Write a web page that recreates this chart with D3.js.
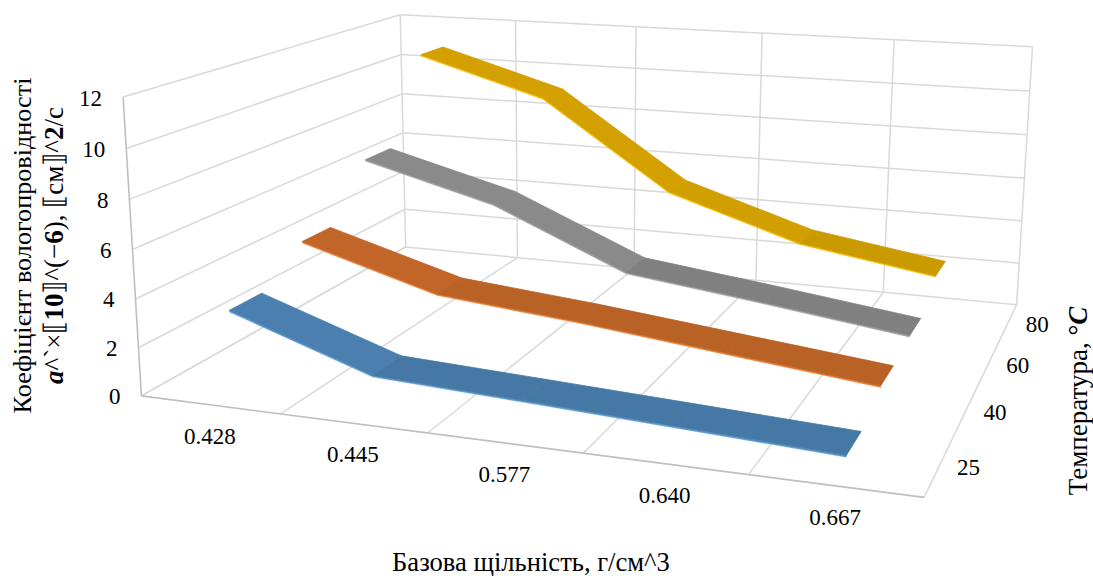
<!DOCTYPE html>
<html><head><meta charset="utf-8">
<script src="https://cdn.jsdelivr.net/npm/d3@7"></script>
<style>
html,body{margin:0;padding:0;background:#fff}
svg{display:block}
text{font-family:"Liberation Serif","Times New Roman",serif;fill:#000}
</style></head><body>
<svg id="c" width="1093" height="576"></svg>
<script>
const densities=["0.428","0.445","0.577","0.640","0.667"];
const temps=["25","40","60","80"];
const yTicks=[0,2,4,6,8,10,12];
const s25=[3.35,1.35,1.07,0.78,0.48];
const s40=[4.65,2.95,2.4,1.75,1.1];
const s60=[6.95,5.4,2.85,2.1,1.3];
const s80=[10.8,9.1,5.1,3.2,2.25];
const seriesValues=[s25,s40,s60,s80];
const edgeColors=["#5b9bd5","#ed7d31","#a5a5a5","#ffc000"];
const faceColors=[
 ["#4a7fb0","#4678a5","#4678a5","#4678a5"],
 ["#c26529","#b86226","#b86226","#b86226"],
 ["#8a8a8a","#8a8a8a","#808080","#808080"],
 ["#d3a000","#d3a000","#d1a000","#c99b00"]];

// Calibration of the 3D box: unit-cube corner -> picture position.
const calib=[
 [0,0,0,141.7,395.7],[1,0,0,924.3,497.3],[1,0,1,1016.7,305],[0,0,1,405.3,247],
 [0,1,0,122.7,97.3],[0,1,1,400.7,14.7],[1,1,1,1032.3,46.7]];
function solve(A,b){const n=b.length,M=A.map((r,i)=>[...r,b[i]]);
 for(let i=0;i<n;i++){let p=i;for(let k=i+1;k<n;k++)if(Math.abs(M[k][i])>Math.abs(M[p][i]))p=k;[M[i],M[p]]=[M[p],M[i]];
  for(let k=i+1;k<n;k++){const f=M[k][i]/M[i][i];for(let j=i;j<=n;j++)M[k][j]-=f*M[i][j];}}
 const x=Array(n).fill(0);for(let i=n-1;i>=0;i--){let s=M[i][n];for(let j=i+1;j<n;j++)s-=M[i][j]*x[j];x[i]=s/M[i][i];}return x;}
const rows=[],rhs=[];
calib.forEach(([X,Y,Z,u,v])=>{
 rows.push([X,Y,Z,1,0,0,0,0,-u*X,-u*Y,-u*Z]);rhs.push(u);
 rows.push([0,0,0,0,X,Y,Z,1,-v*X,-v*Y,-v*Z]);rhs.push(v);});
const ATA=d3.range(11).map(i=>d3.range(11).map(j=>d3.sum(rows,r=>r[i]*r[j])));
const ATb=d3.range(11).map(i=>d3.sum(rows,(r,k)=>r[i]*rhs[k]));
const h=solve(ATA,ATb);
function proj(X,Y,Z){const w=h[8]*X+h[9]*Y+h[10]*Z+1;
 return [(h[0]*X+h[1]*Y+h[2]*Z+h[3])/w,(h[4]*X+h[5]*Y+h[6]*Z+h[7])/w];}

const x=d3.scaleBand().domain(densities).range([0,1]);
const z=d3.scaleBand().domain(temps).range([0,1]);
const y=d3.scaleLinear().domain([0,12]).range([0,1]);
const xc=d=>x(d)+x.bandwidth()/2, zc=d=>z(d)+z.bandwidth()/2;
const ribbon=0.105, thick=0.07;

const svg=d3.select("#c");
const line=d3.line();
const seg=(g,a,b,col,w)=>g.append("path").attr("d",line([proj(...a),proj(...b)])).attr("stroke",col).attr("stroke-width",w).attr("fill","none");
const grid=svg.append("g");
const G="#d9d9d9",A="#bfbfbf";
yTicks.forEach(v=>{
 seg(grid,[0,y(v),0],[0,y(v),1],G,1.5);
 seg(grid,[0,y(v),1],[1,y(v),1],G,1.5);
});
d3.range(6).map(i=>i/5).forEach(t=>{
 seg(grid,[t,0,1],[t,1,1],G,1.5);
 seg(grid,[t,0,0],[t,0,1],G,1.5);
});
seg(grid,[0,0,0],[0,1,0],A,1.6);
seg(grid,[0,0,0],[1,0,0],A,1.6);

// series, back to front
d3.range(temps.length).reverse().forEach(s=>{
 const g=svg.append("g");
 const vals=seriesValues[s], zm=zc(temps[s]), z0=zm-ribbon/2, z1=zm+ribbon/2;
 const pts=densities.map((d,i)=>[xc(d),y(vals[i])]);
 d3.pairs(pts).forEach(([a,b])=>{
  const front=[[a[0],a[1],z0],[b[0],b[1],z0],[b[0],b[1]-y(thick)+y(0),z0],[a[0],a[1]-y(thick)+y(0),z0]].map(p=>proj(...p));
  g.append("path").attr("d",line(front)+"Z").attr("fill",edgeColors[s]).attr("stroke",edgeColors[s]).attr("stroke-width",.3);
 });
 d3.pairs(pts).forEach(([a,b],i)=>{
  const top=[[a[0],a[1],z0],[b[0],b[1],z0],[b[0],b[1],z1],[a[0],a[1],z1]].map(p=>proj(...p));
  const col=faceColors[s][i];
  g.append("path").attr("d",line(top)+"Z").attr("fill",col).attr("stroke",col).attr("stroke-width",.8);
 });
});

// tick labels
const fs=23;
yTicks.forEach(v=>{const p=proj(0,y(v),0);
 svg.append("text").attr("x",p[0]-21).attr("y",p[1]+8.5).attr("text-anchor","end").attr("font-size",fs).text(v);});
densities.forEach(d=>{const p=proj(xc(d),0,0);
 svg.append("text").attr("x",p[0]).attr("y",p[1]+39).attr("text-anchor","middle").attr("font-size",fs).text(d);});
temps.forEach(t=>{const p=proj(1,0,zc(t));
 svg.append("text").attr("x",p[0]+18).attr("y",p[1]+9).attr("text-anchor","start").attr("font-size",fs).text(t);});

// titles
const rich=(sel,parts)=>parts.forEach(([t,w,i])=>{const s=sel.append("tspan").text(t);
 if(w)s.attr("font-weight","bold"); if(i)s.attr("font-style","italic");});
svg.append("text").attr("x",531).attr("y",571).attr("text-anchor","middle").attr("font-size",26.6).text("Базова щільність, г/см^3");
svg.append("text").attr("transform","translate(31,245.5) rotate(-90)").attr("text-anchor","middle").attr("font-size",26.2).text("Коефіцієнт вологопровідності");
rich(svg.append("text").attr("transform","translate(63,245.5) rotate(-90)").attr("text-anchor","middle").attr("font-size",27),
 [["a",1,1],["^`×⟦"],["10",1],["⟧^(−"],["6",1],["), ⟦см⟧^"],["2",1],["/с"]]);
rich(svg.append("text").attr("transform","translate(1087,401) rotate(-90)").attr("text-anchor","middle").attr("font-size",27),
 [["Температура, °"],["C",1,1]]);
</script></body></html>
